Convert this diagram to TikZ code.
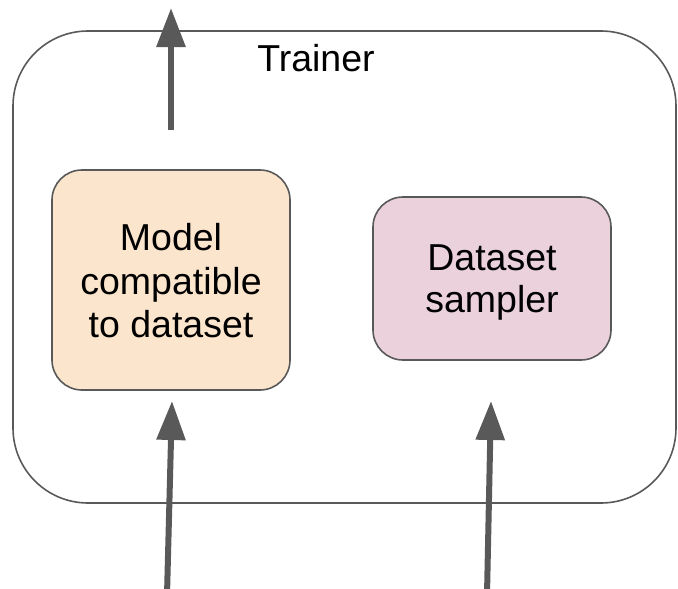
\documentclass[tikz,border=0pt]{standalone}
\usepackage{fontspec}
\setmainfont{Liberation Sans}
\usetikzlibrary{arrows.meta}
\definecolor{edgegray}{HTML}{595959}
\definecolor{peach}{HTML}{FCE5CD}
\definecolor{mauve}{HTML}{EAD1DC}
\tikzset{
  label text/.style={font=\fontsize{37.5}{43.5}\selectfont, align=center},
  panel/.style={draw=edgegray, line width=1.6pt, rounded corners=30pt, inner sep=0pt},
  flow/.style={draw=edgegray, line width=6pt, -{Triangle[length=39pt,width=28pt]}},
}
\begin{document}
\begin{tikzpicture}[x=1pt,y=-1pt]
  \useasboundingbox (0,0) rectangle (678,589);
  % trainer frame
  \draw[edgegray, line width=1.6pt, rounded corners=75pt] (13,31) rectangle (676,503);
  \node[label text] (trainer) at (316,58) {Trainer};
  % inner components
  \node[panel, fill=peach, minimum width=238pt, minimum height=220pt] (model) at (171,280) {};
  \node[label text] (modeltext) at ([yshift=-1pt]model.center) {Model\\compatible\\to dataset};
  \node[panel, fill=mauve, minimum width=238pt, minimum height=163pt] (sampler) at (492,278.5) {};
  \node[label text, font=\fontsize{37.5}{41.5}\selectfont] (samplertext)
    at ([yshift=-4pt]sampler.center) {Dataset\\sampler};
  % flows
  \coordinate (outS) at (171,130);
  \coordinate (outE) at (171,8);
  \coordinate (inA) at (167,595);
  \coordinate (inAe) at (172,401);
  \coordinate (inB) at (487,595);
  \coordinate (inBe) at (491,401);
  \draw[flow] (outS) -- (outE);
  \draw[flow] (inA) -- (inAe);
  \draw[flow] (inB) -- (inBe);
\end{tikzpicture}
\end{document}
